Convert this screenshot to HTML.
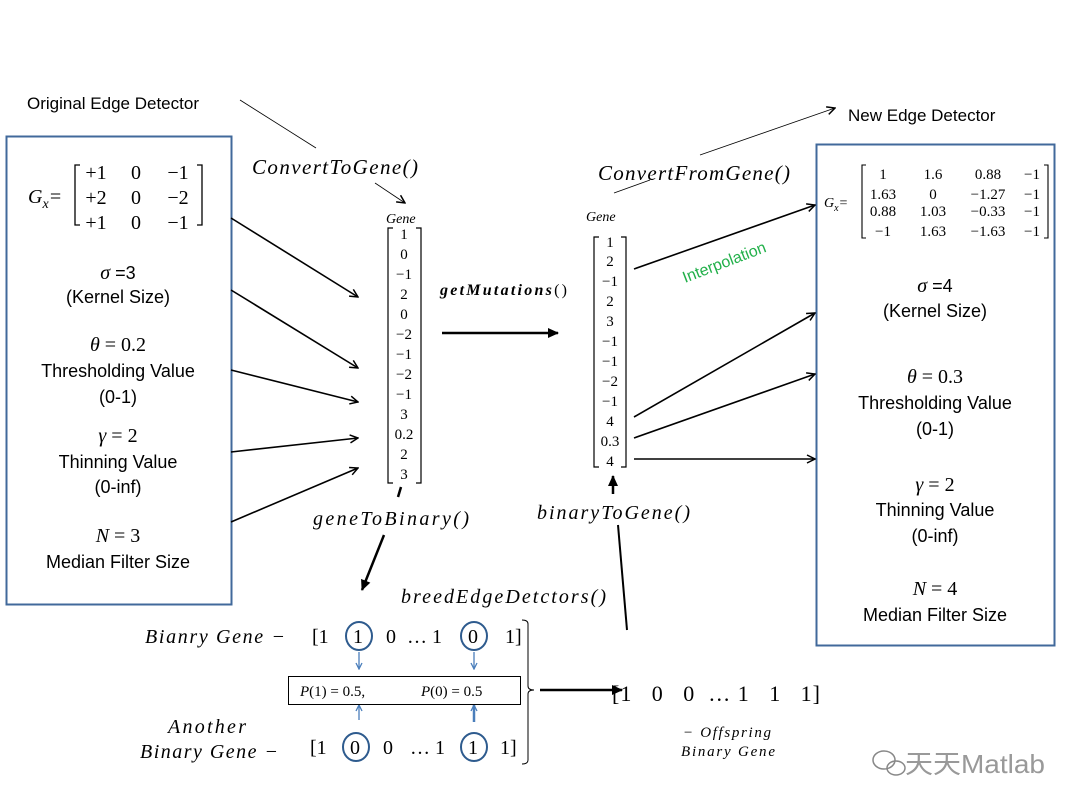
<!DOCTYPE html>
<html><head><meta charset="utf-8"><style>
body{margin:0;background:#fff}
svg{display:block}
.s{font-family:"Liberation Sans",sans-serif;fill:#000}
.m{font-family:"Liberation Serif",serif;fill:#000}
.i{font-family:"Liberation Serif",serif;font-style:italic;fill:#000}
</style></head><body>
<svg width="1080" height="810" viewBox="0 0 1080 810" xmlns="http://www.w3.org/2000/svg">
<defs>
<marker id="a" markerWidth="10" markerHeight="10" refX="9" refY="5" orient="auto" markerUnits="userSpaceOnUse"><path d="M1,1 L9,5 L1,9" fill="none" stroke="#000" stroke-width="1.5"/></marker>
<marker id="af" markerWidth="12" markerHeight="12" refX="10" refY="6" orient="auto" markerUnits="userSpaceOnUse"><path d="M0,1 L11,6 L0,11 z" fill="#000"/></marker>
<marker id="ab" markerWidth="8" markerHeight="8" refX="7" refY="4" orient="auto" markerUnits="userSpaceOnUse"><path d="M1,1 L7,4 L1,7" fill="none" stroke="#4a7ebb" stroke-width="1.3"/></marker>
</defs>

<rect x="6.5" y="136.5" width="225" height="468" fill="none" stroke="#41699b" stroke-width="2"/>
<rect x="816.5" y="144.5" width="238" height="501" fill="none" stroke="#41699b" stroke-width="2"/>

<text x="27" y="109" class="s" font-size="17">Original Edge Detector</text>
<line x1="240" y1="100" x2="316" y2="148" stroke="#000" stroke-width="0.8"/>
<text x="252" y="174" class="i" font-size="21" textLength="166" lengthAdjust="spacing">ConvertToGene()</text>
<line x1="375" y1="183" x2="405" y2="203" stroke="#000" stroke-width="0.8" marker-end="url(#a)"/>
<text x="386" y="223" class="i" font-size="14">Gene</text>

<text x="848" y="121" class="s" font-size="17">New Edge Detector</text>
<line x1="700" y1="155" x2="835" y2="108" stroke="#000" stroke-width="0.8" marker-end="url(#a)"/>
<text x="598" y="180" class="i" font-size="21" textLength="192" lengthAdjust="spacing">ConvertFromGene()</text>
<line x1="614" y1="193" x2="650" y2="180" stroke="#000" stroke-width="0.8"/>
<text x="586" y="221" class="i" font-size="14">Gene</text>

<text x="28" y="203" class="i" font-size="20">G<tspan font-size="14" dy="5">x</tspan><tspan dy="-5">=</tspan></text>
<path d="M80,165 h-5 v60 h5 M197,165 h5 v60 h-5" fill="none" stroke="#000" stroke-width="1.3"/>
<g class="m" font-size="20" text-anchor="middle">
<text x="96" y="179">+1</text><text x="136" y="179">0</text><text x="178" y="179">−1</text>
<text x="96" y="204">+2</text><text x="136" y="204">0</text><text x="178" y="204">−2</text>
<text x="96" y="229">+1</text><text x="136" y="229">0</text><text x="178" y="229">−1</text>
</g>
<g text-anchor="middle" font-size="18">
<text x="118" y="279" class="i" font-size="20">σ <tspan class="s" font-style="normal" font-size="18">=3</tspan></text>
<text x="118" y="303" class="s">(Kernel Size)</text>
<text x="118" y="351" class="i" font-size="20">θ <tspan font-style="normal">= 0.2</tspan></text>
<text x="118" y="377" class="s">Thresholding Value</text>
<text x="118" y="403" class="s">(0-1)</text>
<text x="118" y="442" class="i" font-size="20">γ <tspan font-style="normal">= 2</tspan></text>
<text x="118" y="468" class="s">Thinning Value</text>
<text x="118" y="493" class="s">(0-inf)</text>
<text x="118" y="542" class="i" font-size="20">N <tspan font-style="normal">= 3</tspan></text>
<text x="118" y="568" class="s">Median Filter Size</text>
</g>

<path d="M393,228 h-5 v255 h5 M416,228 h5 v255 h-5" fill="none" stroke="#000" stroke-width="1.2"/>
<g class="m" font-size="15" text-anchor="middle">
<text x="404" y="239">1</text><text x="404" y="259">0</text><text x="404" y="279">−1</text><text x="404" y="299">2</text><text x="404" y="319">0</text><text x="404" y="339">−2</text><text x="404" y="359">−1</text><text x="404" y="379">−2</text><text x="404" y="399">−1</text><text x="404" y="419">3</text><text x="404" y="439">0.2</text><text x="404" y="459">2</text><text x="404" y="479">3</text>
</g>
<g stroke="#000" stroke-width="1.6" marker-end="url(#a)">
<line x1="231" y1="218" x2="358" y2="297"/>
<line x1="231" y1="290" x2="358" y2="368"/>
<line x1="231" y1="370" x2="358" y2="402"/>
<line x1="231" y1="452" x2="358" y2="438"/>
<line x1="231" y1="522" x2="358" y2="468"/>
</g>

<text x="440" y="295" class="i" font-size="16" font-weight="bold" textLength="127" lengthAdjust="spacing">getMutations<tspan font-weight="normal" font-style="normal">()</tspan></text>
<line x1="442" y1="333" x2="558" y2="333" stroke="#000" stroke-width="2.5" marker-end="url(#af)"/>

<path d="M599,237 h-5 v230 h5 M621,237 h5 v230 h-5" fill="none" stroke="#000" stroke-width="1.2"/>
<g class="m" font-size="15" text-anchor="middle">
<text x="610" y="247">1</text><text x="610" y="266">2</text><text x="610" y="286">−1</text><text x="610" y="306">2</text><text x="610" y="326">3</text><text x="610" y="346">−1</text><text x="610" y="366">−1</text><text x="610" y="386">−2</text><text x="610" y="406">−1</text><text x="610" y="426">4</text><text x="610" y="446">0.3</text><text x="610" y="466">4</text>
</g>
<g stroke="#000" stroke-width="1.6" marker-end="url(#a)">
<line x1="634" y1="269" x2="815" y2="205"/>
<line x1="634" y1="417" x2="815" y2="313"/>
<line x1="634" y1="438" x2="815" y2="374"/>
<line x1="634" y1="459" x2="815" y2="459"/>
</g>
<text x="0" y="0" class="s" font-size="16" style="fill:#22b04a" transform="translate(685,283) rotate(-21)">Interpolation</text>

<text x="824" y="207" class="i" font-size="14">G<tspan font-size="10" dy="4">x</tspan><tspan dy="-4">=</tspan></text>
<path d="M866,165 h-4 v73 h4 M1044,165 h4 v73 h-4" fill="none" stroke="#000" stroke-width="1.1"/>
<g class="m" font-size="15" text-anchor="middle">
<text x="883" y="179">1</text><text x="933" y="179">1.6</text><text x="988" y="179">0.88</text><text x="1032" y="179">−1</text>
<text x="883" y="199">1.63</text><text x="933" y="199">0</text><text x="988" y="199">−1.27</text><text x="1032" y="199">−1</text>
<text x="883" y="216">0.88</text><text x="933" y="216">1.03</text><text x="988" y="216">−0.33</text><text x="1032" y="216">−1</text>
<text x="883" y="236">−1</text><text x="933" y="236">1.63</text><text x="988" y="236">−1.63</text><text x="1032" y="236">−1</text>
</g>
<g text-anchor="middle" font-size="18">
<text x="935" y="292" class="i" font-size="20">σ <tspan class="s" font-style="normal" font-size="18">=4</tspan></text>
<text x="935" y="317" class="s">(Kernel Size)</text>
<text x="935" y="383" class="i" font-size="20">θ <tspan font-style="normal">= 0.3</tspan></text>
<text x="935" y="409" class="s">Thresholding Value</text>
<text x="935" y="435" class="s">(0-1)</text>
<text x="935" y="491" class="i" font-size="20">γ <tspan font-style="normal">= 2</tspan></text>
<text x="935" y="516" class="s">Thinning Value</text>
<text x="935" y="542" class="s">(0-inf)</text>
<text x="935" y="595" class="i" font-size="20">N <tspan font-style="normal">= 4</tspan></text>
<text x="935" y="621" class="s">Median Filter Size</text>
</g>

<line x1="401" y1="487" x2="398" y2="497" stroke="#000" stroke-width="2.5"/>
<text x="313" y="525" class="i" font-size="20" textLength="156" lengthAdjust="spacing">geneToBinary()</text>
<line x1="384" y1="535" x2="362" y2="590" stroke="#000" stroke-width="2.5" marker-end="url(#af)"/>
<text x="537" y="519" class="i" font-size="20" textLength="153" lengthAdjust="spacing">binaryToGene()</text>
<line x1="627" y1="630" x2="618" y2="525" stroke="#000" stroke-width="2"/>
<line x1="613" y1="494" x2="613" y2="476" stroke="#000" stroke-width="2.5" marker-end="url(#af)"/>
<text x="401" y="603" class="i" font-size="20" textLength="205" lengthAdjust="spacing">breedEdgeDetctors()</text>

<text x="145" y="643" class="i" font-size="20" textLength="140" lengthAdjust="spacing">Bianry Gene −</text>
<g class="m" font-size="20">
<text x="312" y="643">[1</text><text x="353" y="643">1</text><text x="386" y="643">0</text><text x="407" y="643">… 1</text><text x="468" y="643">0</text><text x="505" y="643">1]</text>
</g>
<ellipse cx="359" cy="636" rx="13" ry="14" fill="none" stroke="#2e5b8e" stroke-width="2"/>
<ellipse cx="474" cy="636" rx="13" ry="14" fill="none" stroke="#2e5b8e" stroke-width="2"/>
<g stroke="#4a7ebb" stroke-width="1.3" marker-end="url(#ab)">
<line x1="359" y1="652" x2="359" y2="669"/>
<line x1="474" y1="652" x2="474" y2="669"/>
<line x1="359" y1="720" x2="359" y2="705"/>
</g>
<line x1="474" y1="722" x2="474" y2="705" stroke="#4a7ebb" stroke-width="2.5" marker-end="url(#ab)"/>
<rect x="288.5" y="676.5" width="232" height="28" fill="#fff" stroke="#000" stroke-width="1"/>
<text x="300" y="696" class="i" font-size="15">P<tspan font-style="normal">(1) = 0.5,</tspan></text>
<text x="421" y="696" class="i" font-size="15">P<tspan font-style="normal">(0) = 0.5</tspan></text>
<text x="168" y="733" class="i" font-size="20" textLength="78" lengthAdjust="spacing">Another</text>
<text x="140" y="758" class="i" font-size="20" textLength="138" lengthAdjust="spacing">Binary Gene −</text>
<g class="m" font-size="20">
<text x="310" y="754">[1</text><text x="350" y="754">0</text><text x="383" y="754">0</text><text x="410" y="754">… 1</text><text x="468" y="754">1</text><text x="500" y="754">1]</text>
</g>
<ellipse cx="356" cy="747" rx="13" ry="14" fill="none" stroke="#2e5b8e" stroke-width="2"/>
<ellipse cx="474" cy="747" rx="13" ry="14" fill="none" stroke="#2e5b8e" stroke-width="2"/>
<path d="M522,620 q6,0 6,4 v62 q0,4 6,4 q-6,0 -6,4 v66 q0,4 -6,4" fill="none" stroke="#000" stroke-width="1"/>
<line x1="540" y1="690" x2="622" y2="690" stroke="#000" stroke-width="2.5" marker-end="url(#af)"/>
<text x="612" y="701" class="m" font-size="22" xml:space="preserve" textLength="208" lengthAdjust="spacing">[1   0   0  … 1   1   1]</text>
<text x="683" y="737" class="i" font-size="15" textLength="88" lengthAdjust="spacing">− Offspring</text>
<text x="681" y="756" class="i" font-size="15" textLength="94" lengthAdjust="spacing">Binary Gene</text>

<g fill="none" stroke="#888" stroke-width="1.5"><ellipse cx="884" cy="760" rx="11" ry="9"/><ellipse cx="896" cy="768" rx="9" ry="7"/></g>
<text x="905" y="773" font-family="'Liberation Sans','Noto Sans CJK SC',sans-serif" font-size="26" fill="#999" textLength="140" lengthAdjust="spacingAndGlyphs">天天Matlab</text>
</svg>
</body></html>
